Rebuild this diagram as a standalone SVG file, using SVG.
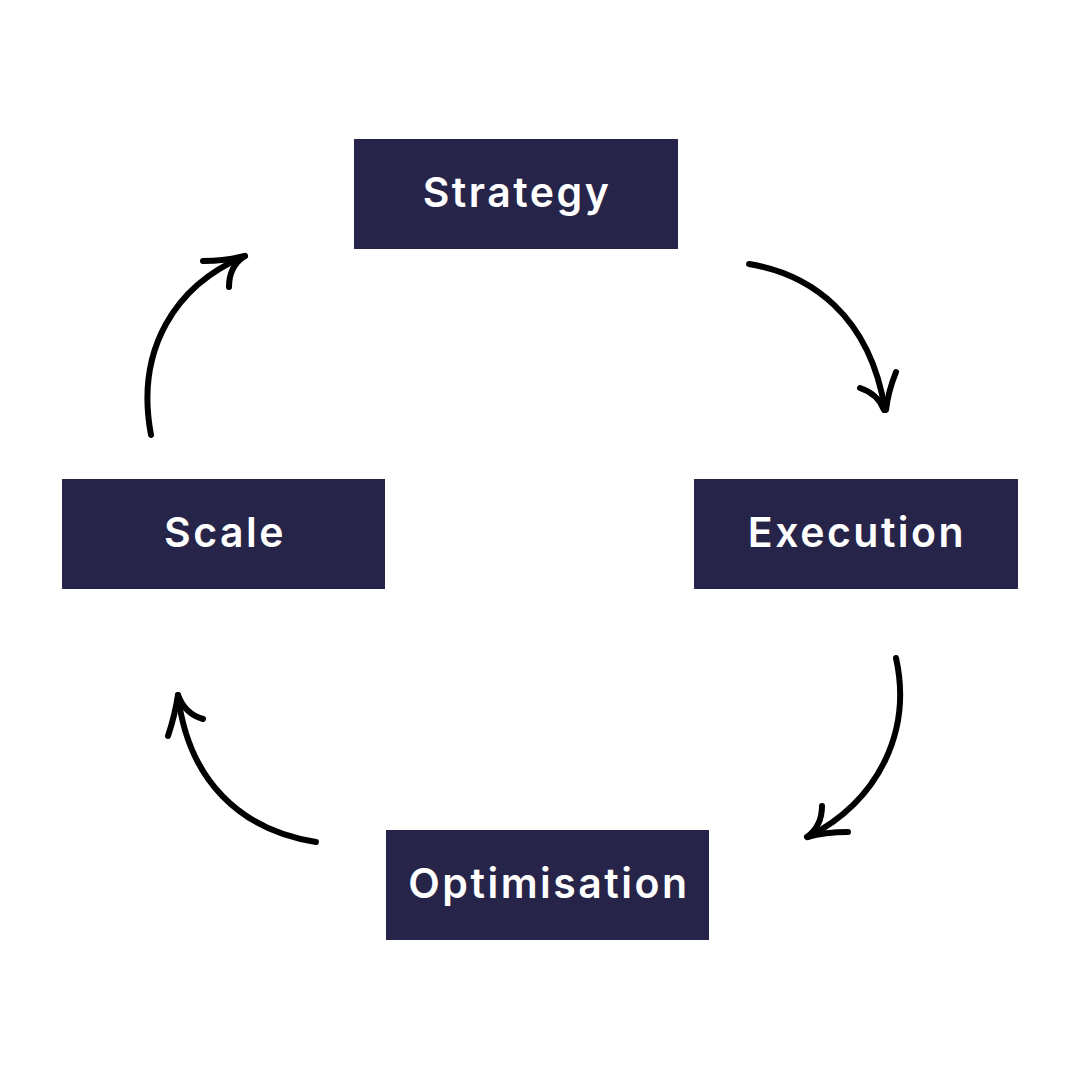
<svg xmlns="http://www.w3.org/2000/svg" width="1080" height="1080" viewBox="0 0 1080 1080">
<style>
.box{fill:#262449}
.lbl{fill:#ffffff;font-family:Inter,"Noto Sans",sans-serif;font-weight:600;font-size:41px;letter-spacing:2.5px;text-anchor:middle;dominant-baseline:central}
.arr{fill:none;stroke:#000;stroke-width:6;stroke-linecap:round;stroke-linejoin:round}
</style>
<rect width="1080" height="1080" fill="#fff"/>
<g id="strategy"><rect class="box" x="354" y="139" width="324" height="110"/><text class="lbl" x="517" y="192">Strategy</text></g>
<g id="execution"><rect class="box" x="694" y="479" width="324" height="110"/><text class="lbl" x="857" y="532">Execution</text></g>
<g id="scale"><rect class="box" x="62" y="479" width="323" height="110"/><text class="lbl" x="225" y="532">Scale</text></g>
<g id="optimisation"><rect class="box" x="386" y="830" width="323" height="110"/><text class="lbl" x="549" y="883">Optimisation</text></g>
<g id="connectors">
<path class="arr" d="M749,264 C810,274 870,315 885,410"/>
<path class="arr" d="M860,388 Q878,394 884,410 M896,372 Q888,392 886,410"/>
<path class="arr" d="M896,658 C912,730 880,800 808,837"/>
<path class="arr" d="M822,806 Q822,826 807,837 M848,832 Q825,832 807,837"/>
<path class="arr" d="M316,842 C240,830 188,780 178,695"/>
<path class="arr" d="M168,736 Q175,715 178,695 M203,719 Q185,714 178,695"/>
<path class="arr" d="M151,435 C135,350 175,285 245,256"/>
<path class="arr" d="M203,261 Q225,261 245,256 M229,287 Q229,266 245,256"/>
</g>
</svg>
